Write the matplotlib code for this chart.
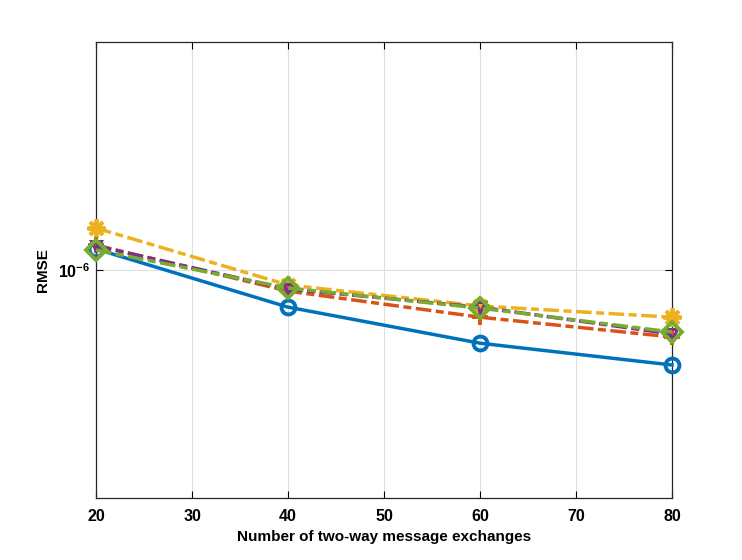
import matplotlib
matplotlib.use("Agg")
import matplotlib.pyplot as plt
from matplotlib.ticker import FixedLocator, NullLocator

plt.rcParams['font.family'] = ['Liberation Sans', 'DejaVu Sans']
plt.rcParams['font.weight'] = 'bold'
plt.rcParams['mathtext.fontset'] = 'custom'
plt.rcParams['mathtext.rm'] = 'Liberation Sans:bold'
plt.rcParams['mathtext.bf'] = 'Liberation Sans:bold'

# data
exchanges = [20, 40, 60, 80]
rmse_blue = [1.112e-6, 8.29e-7, 6.91e-7, 6.19e-7]
rmse_orange = [1.134e-6, 8.99e-7, 7.88e-7, 7.13e-7]
rmse_yellow = [1.236e-6, 9.27e-7, 8.34e-7, 7.88e-7]
rmse_purple = [1.129e-6, 9.08e-7, 8.29e-7, 7.24e-7]
rmse_green = [1.106e-6, 9.13e-7, 8.25e-7, 7.31e-7]

x_ticks = [20, 30, 40, 50, 60, 70, 80]

fig = plt.figure(figsize=(7.42, 5.6), dpi=100)
ax = fig.add_axes([0.1294, 0.1107, 0.7763, 0.8143])

lw = 2.5
dd = (4.5, 1.3, 2.3, 1.3)
ax.plot(exchanges, rmse_blue, '-', color='#0072BD', lw=lw, marker='o', ms=10,
		mew=2.8, mfc='none', zorder=5, clip_on=False)
ax.plot(exchanges, rmse_orange, '-.', color='#D95319', lw=lw, marker='+', ms=12,
		mew=2.8, zorder=4, dashes=dd, clip_on=False)
ax.plot(exchanges, rmse_yellow, '-.', color='#EDB120', lw=lw, marker=(8, 2, 0), ms=13,
		mew=2.8, zorder=3, dashes=dd, clip_on=False)
ax.plot(exchanges, rmse_purple, '-.', color='#7E2F8E', lw=lw, marker='v', ms=7,
		mew=2.2, mfc='none', zorder=6, dashes=dd, clip_on=False)
ax.plot(exchanges, rmse_green, '-.', color='#77AC30', lw=lw, marker='D', ms=10,
		mew=2.8, mfc='none', zorder=7, dashes=dd, clip_on=False)

ax.set_yscale('log')
ax.set_ylim(10 ** -6.5, 10 ** -5.5)
ax.set_xlim(20, 80)
ax.set_xticks(x_ticks)
ax.set_xticklabels([str(t) for t in x_ticks])
ax.yaxis.set_major_locator(FixedLocator([1e-6]))
ax.yaxis.set_minor_locator(NullLocator())
ax.set_yticklabels([r'$\mathbf{10^{-6}}$'])

ax.grid(True, color='#DFDFDF', lw=0.8)
ax.set_axisbelow(True)
ax.tick_params(direction='in', length=5, width=0.8, labelsize=11.5, top=True, right=True)
ax.tick_params(axis='x', pad=8)
ax.tick_params(axis='y', pad=4)
for s in ax.spines.values():
	s.set_color('#262626')
	s.set_linewidth(0.9)

ax.set_xlabel('Number of two-way message exchanges', fontsize=11, fontweight='bold',
		labelpad=4)
ax.set_ylabel('RMSE', fontsize=11, fontweight='bold', labelpad=6)

fig.savefig('out.png', dpi=100)
